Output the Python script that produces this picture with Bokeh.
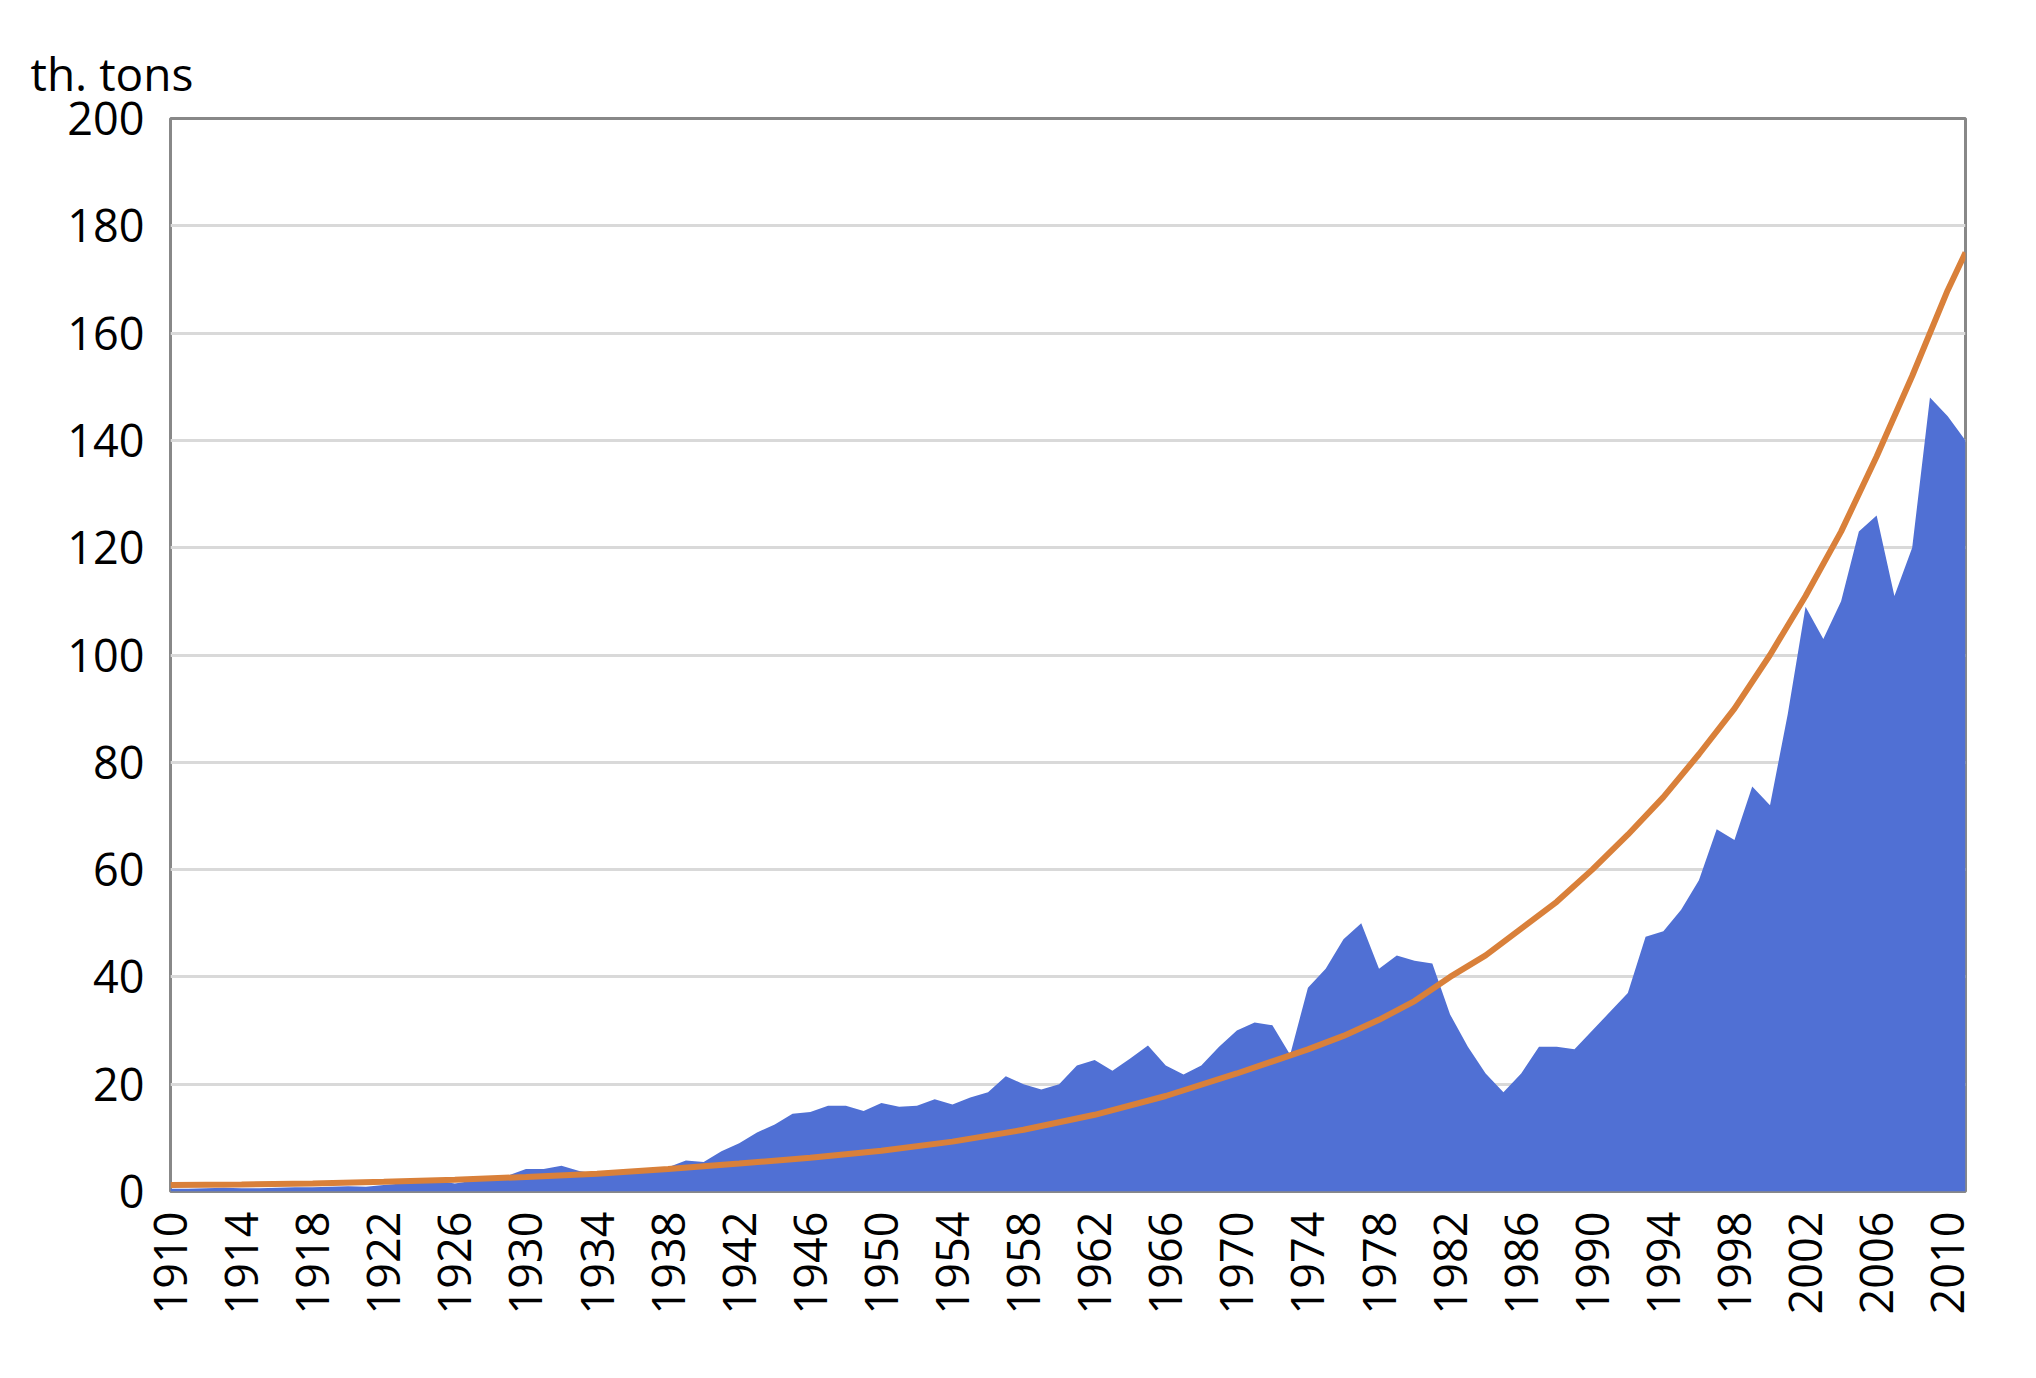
import math
from bokeh.plotting import figure
from bokeh.models import FixedTicker, Range1d
from bokeh.embed import file_html
from bokeh.resources import INLINE

years = list(range(1910, 2012))
production = [0.5,0.5,0.6,0.7,0.6,0.6,0.7,0.8,0.8,0.9,
              1.0,0.9,1.2,1.5,1.8,2.0,1.5,2.0,2.5,3.0,
              4.2,4.2,4.8,3.8,3.3,3.5,3.8,4.2,4.5,5.8,
              5.5,7.5,9.0,11,12.5,14.5,14.8,16,16,15,
              16.5,15.8,16,17.2,16.2,17.5,18.5,21.5,20,19,
              20,23.5,24.5,22.5,24.8,27.2,23.5,21.8,23.5,27,
              30,31.5,31,25.5,38,41.5,47,50,41.5,44,
              43,42.5,33,27,22,18.5,22,27,27,26.5,
              30,33.5,37,47.5,48.5,52.5,58,67.5,65.5,75.5,
              72,89,109,103,110,123,126,111,120,148,
              144.5,140]
trend_years = [1910,1914,1918,1922,1926,1930,1934,1938,1942,1946,1950,1954,1958,1962,1966,1970,
               1974,1976,1978,1980,1982,1984,1986,1988,1990,1992,1994,1996,1998,2000,2002,2004,
               2006,2008,2010,2011]
trend = [1.2,1.3,1.5,1.8,2.2,2.7,3.3,4.2,5.2,6.3,7.6,9.3,11.5,14.3,17.8,22,
         26.5,29,32,35.5,40,44,49,54,60,66.5,73.5,81.5,90,100,111,123,
         137,152,168,175]
x_ticks = list(range(1910, 2012, 4))
y_ticks = list(range(0, 201, 20))

p = figure(width=2020, height=1360, output_backend="svg", toolbar_location=None,
           x_range=Range1d(1910, 2011), y_range=Range1d(0, 200),
           min_border_left=170, min_border_right=55, min_border_top=118, min_border_bottom=169)
p.varea(x=years, y1=[0]*len(years), y2=production, fill_color="#5070D4")
p.line(trend_years, trend, line_color="#D9803A", line_width=6)

p.title.text = "th. tons"
p.title.text_font = "Open Sans"
p.title.text_font_size = "46px"
p.title.text_font_style = "normal"
p.title.text_color = "black"
p.title.align = "left"
p.title.offset = -140
p.title.standoff = 30

p.outline_line_color = "#888888"
p.outline_line_width = 3
p.xgrid.grid_line_color = None
p.ygrid.grid_line_color = "#d9d9d9"
p.ygrid.grid_line_width = 3
p.ygrid.ticker = FixedTicker(ticks=y_ticks)
for ax in (p.xaxis, p.yaxis):
    ax.axis_line_color = None
    ax.major_tick_line_color = None
    ax.minor_tick_line_color = None
    ax.major_label_text_font = "Open Sans"
    ax.major_label_text_font_size = "45px"
    ax.major_label_text_color = "black"
p.xaxis.ticker = FixedTicker(ticks=x_ticks)
p.yaxis.ticker = FixedTicker(ticks=y_ticks)
p.xaxis.major_label_orientation = math.pi / 2
p.xaxis.major_label_standoff = 14
p.yaxis.major_label_standoff = 20

open("out.html", "w").write(file_html(p, INLINE))
